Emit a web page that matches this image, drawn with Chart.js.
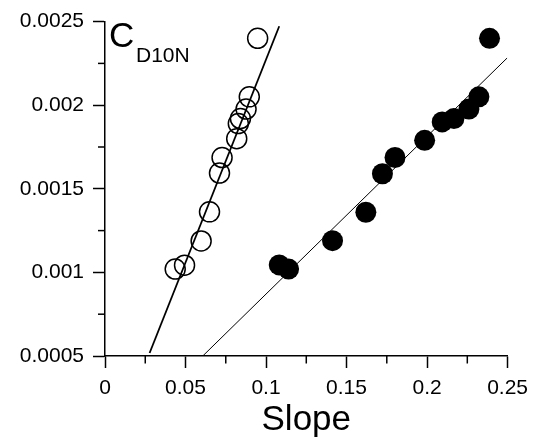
<!DOCTYPE html>
<html>
<head>
<meta charset="utf-8">
<script src="https://cdn.jsdelivr.net/npm/chart.js@4/dist/chart.umd.min.js"></script>
<style>
  html, body { margin: 0; padding: 0; background: #fff; }
  #wrap { width: 536px; height: 438px; }
</style>
</head>
<body>
<div id="wrap"><canvas id="c" width="536" height="438"></canvas></div>
<script>
// open circles (left group)
const openSlope = [0.0948, 0.0896, 0.0876, 0.0841, 0.0828, 0.0818, 0.0727, 0.0711, 0.0649, 0.0597, 0.0494, 0.0436];
const openC     = [0.00240, 0.00205, 0.001977, 0.00192, 0.00189, 0.00180, 0.001687, 0.001594, 0.001362, 0.001188, 0.001043, 0.00102];
// filled circles (right group)
const filledSlope = [0.2388, 0.2322, 0.2260, 0.2167, 0.2094, 0.1985, 0.1801, 0.1723, 0.1620, 0.1413, 0.1082, 0.1140];
const filledC     = [0.00240, 0.00205, 0.001977, 0.00192, 0.00190, 0.00179, 0.001687, 0.00159, 0.00136, 0.00119, 0.001045, 0.00102];
// fitted lines, end points
const openFitSlope = [0.0277, 0.1082];
const openFitC     = [0.000518, 0.002472];
const filledFitSlope = [0.0607, 0.2497];
const filledFitC     = [0.0005, 0.002282];

const xTicks = [0, 0.05, 0.1, 0.15, 0.2, 0.25];
const yTicks = [0.0005, 0.001, 0.0015, 0.002, 0.0025];

const FONT = "'Liberation Sans', Arial, sans-serif";

function pts(xs, ys) {
    return xs.map((x, i) => ({x: x, y: ys[i]}));
}
function isMajor(v, list) {
    return list.some(t => Math.abs(t - v) < 1e-9);
}

// minor tick marks + the C_D10N label
const extras = {
    id: 'extras',
    afterDraw(chart) {
        const ctx = chart.ctx;
        const xs = chart.scales.x, ys = chart.scales.y;
        ctx.save();
        ctx.strokeStyle = '#000';
        ctx.lineWidth = 1.5;
        xs.ticks.forEach(t => {
            if (isMajor(t.value, xTicks)) return;
            const px = xs.getPixelForValue(t.value);
            ctx.beginPath();
            ctx.moveTo(px, ys.bottom);
            ctx.lineTo(px, ys.bottom + 7.5);
            ctx.stroke();
        });
        ys.ticks.forEach(t => {
            if (isMajor(t.value, yTicks)) return;
            const py = ys.getPixelForValue(t.value);
            ctx.beginPath();
            ctx.moveTo(xs.left, py);
            ctx.lineTo(xs.left - 7, py);
            ctx.stroke();
        });
        ctx.fillStyle = '#000';
        ctx.textBaseline = 'alphabetic';
        ctx.textAlign = 'left';
        ctx.font = '35px ' + FONT;
        ctx.fillText('C', xs.left + 4, 46.5);
        ctx.font = '21px ' + FONT;
        ctx.fillText('D10N', xs.left + 31, 62);
        ctx.restore();
    }
};

new Chart(document.getElementById('c'), {
    type: 'scatter',
    data: {
        datasets: [
            {
                data: pts(openSlope, openC),
                pointStyle: 'circle',
                pointRadius: 10,
                pointHoverRadius: 10,
                backgroundColor: 'rgba(0,0,0,0)',
                borderColor: '#000',
                borderWidth: 1.5
            },
            {
                data: pts(filledSlope, filledC),
                pointStyle: 'circle',
                pointRadius: 10.5,
                pointHoverRadius: 10.5,
                backgroundColor: '#000',
                borderColor: '#000',
                borderWidth: 0
            },
            {
                data: pts(openFitSlope, openFitC),
                showLine: true,
                pointRadius: 0,
                borderColor: '#000',
                borderWidth: 1.8
            },
            {
                data: pts(filledFitSlope, filledFitC),
                showLine: true,
                pointRadius: 0,
                borderColor: '#000',
                borderWidth: 1
            }
        ]
    },
    options: {
        responsive: false,
        animation: false,
        layout: {
            autoPadding: false,
            padding: {top: 19, right: 27, left: 0, bottom: 0}
        },
        plugins: {
            legend: {display: false},
            tooltip: {enabled: false}
        },
        scales: {
            x: {
                type: 'linear',
                min: 0,
                max: 0.25,
                afterFit(scale) { scale.height = 82; },
                border: {display: true, color: '#000', width: 1.5},
                grid: {
                    drawOnChartArea: false,
                    tickLength: 12,
                    tickWidth: 1.5,
                    tickColor: ctx => isMajor(ctx.tick.value, xTicks) ? '#000' : 'rgba(0,0,0,0)'
                },
                ticks: {
                    stepSize: 0.025,
                    maxRotation: 0,
                    autoSkip: false,
                    padding: 8,
                    color: '#000',
                    font: {family: FONT, size: 21},
                    callback: v => isMajor(v, xTicks) ? String(+v.toFixed(3)) : ''
                },
                title: {
                    display: true,
                    text: 'Slope',
                    color: '#000',
                    font: {family: FONT, size: 35},
                    padding: {top: 0, bottom: -3}
                }
            },
            y: {
                type: 'linear',
                min: 0.0005,
                max: 0.0025,
                afterFit(scale) { scale.width = 105; },
                border: {display: true, color: '#000', width: 1.5},
                grid: {
                    drawOnChartArea: false,
                    tickLength: 12,
                    tickWidth: 1.5,
                    tickColor: ctx => isMajor(ctx.tick.value, yTicks) ? '#000' : 'rgba(0,0,0,0)'
                },
                ticks: {
                    stepSize: 0.00025,
                    autoSkip: false,
                    padding: 9,
                    color: '#000',
                    font: {family: FONT, size: 21},
                    callback: v => isMajor(v, yTicks) ? String(+v.toFixed(4)) : ''
                }
            }
        }
    },
    plugins: [extras]
});
</script>
</body>
</html>
